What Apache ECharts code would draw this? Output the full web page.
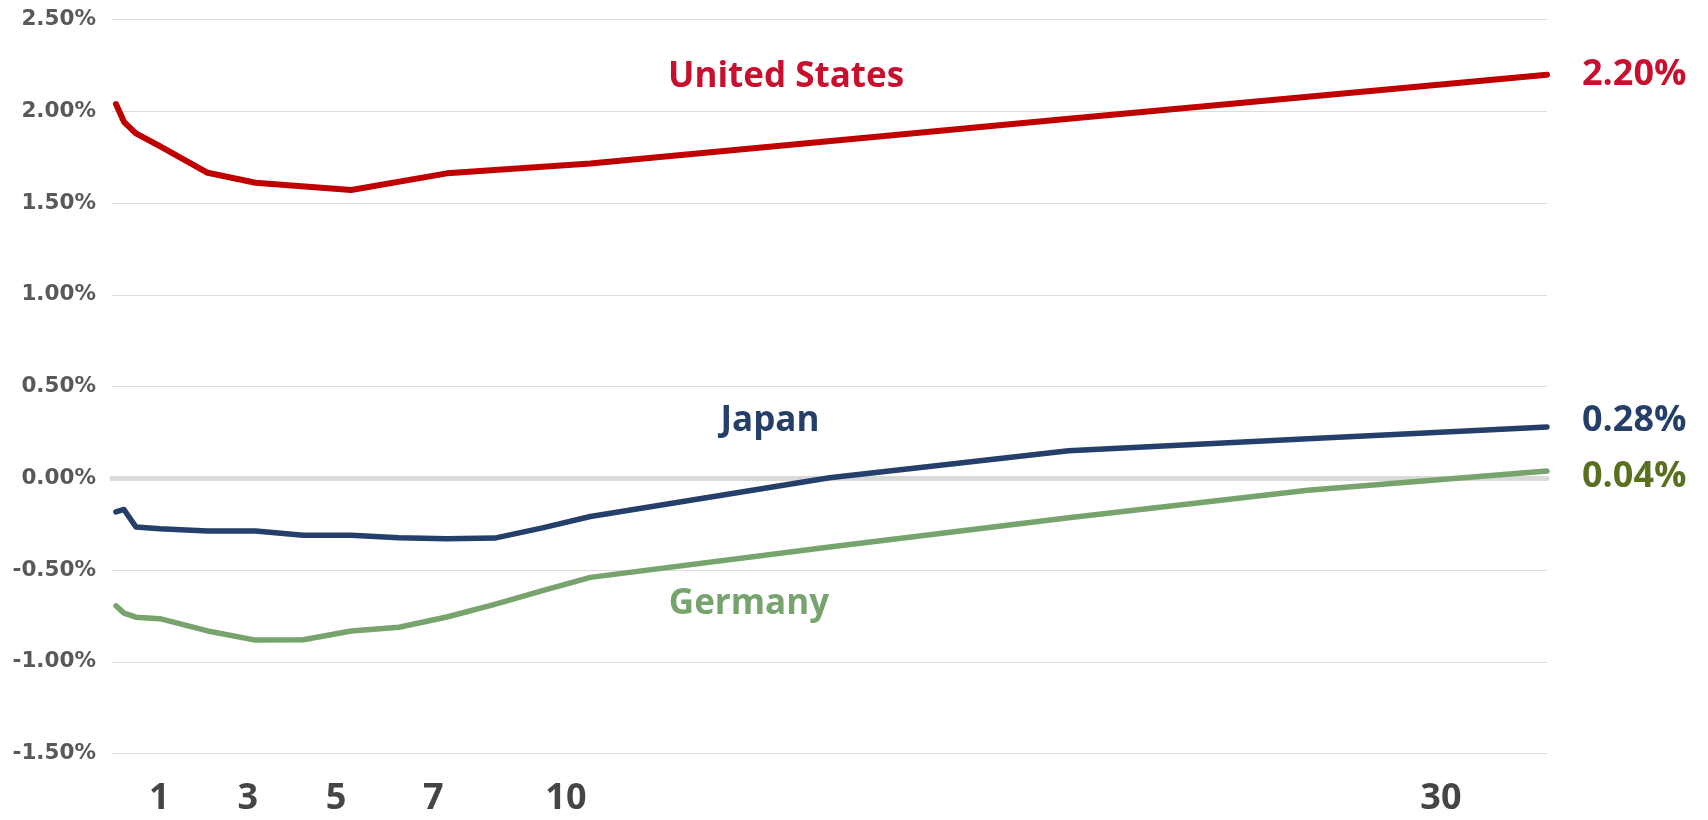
<!DOCTYPE html>
<html>
<head>
<meta charset="utf-8">
<script src="https://cdn.jsdelivr.net/npm/echarts@6/dist/echarts.min.js"></script>
<style>
html,body{margin:0;padding:0;background:#fff;}
#chart{width:1708px;height:820px;}
</style>
</head>
<body>
<div id="chart"></div>
<script>
// Maturities in years
var usMaturities = [0.083, 0.25, 0.5, 1, 2, 3, 5, 7, 10, 20, 30];
var usYields = [2.04, 1.943, 1.88, 1.81, 1.665, 1.611, 1.571, 1.662, 1.716, 1.96, 2.20];

var jpMaturities = [0.083, 0.25, 0.5, 1, 2, 3, 4, 5, 6, 7, 8, 9, 10, 15, 20, 25, 30];
var jpYields = [-0.183, -0.17, -0.265, -0.275, -0.287, -0.287, -0.311, -0.311, -0.324, -0.33, -0.326, -0.27, -0.208, 0.003, 0.15, 0.215, 0.28];

var deMaturities = [0.083, 0.25, 0.5, 1, 2, 3, 4, 5, 6, 7, 8, 9, 10, 15, 20, 25, 30];
var deYields = [-0.695, -0.735, -0.757, -0.765, -0.832, -0.882, -0.88, -0.832, -0.812, -0.756, -0.687, -0.612, -0.54, -0.375, -0.215, -0.065, 0.04];

// Tick labels of the maturity axis and where they sit on the label scale
var xTickLabels = ['1', '3', '5', '7', '10', '30'];
var xTickPositions = [1, 3, 5, 7.2, 10.2, 30];
var seriesNames = ['United States', 'Japan', 'Germany'];
var endValues = ['2.20%', '0.28%', '0.04%'];

function pairs(xs, ys) { return xs.map(function (x, i) { return [x, ys[i]]; }); }

var chart = echarts.init(document.getElementById('chart'), null, { renderer: 'canvas' });

var labelFont = '"Open Sans", "Noto Sans", sans-serif';

var option = {
  animation: false,
  backgroundColor: '#ffffff',
  grid: { left: 112, right: 161, top: 19.6, bottom: 66.5 },
  xAxis: [
    {
      type: 'value', min: 0, max: 30,
      axisLine: { show: true, onZero: true, lineStyle: { color: '#D9D9D9', width: 5 } },
      axisTick: { show: false },
      axisLabel: { show: false },
      splitLine: { show: false }
    },
    {
      type: 'value', min: -0.07, max: 32.4, position: 'bottom',
      axisLine: { show: false, onZero: false },
      axisTick: { show: false },
      splitLine: { show: false },
      axisLabel: {
        customValues: xTickPositions,
        margin: 27,
        color: '#454545',
        fontFamily: labelFont,
        fontWeight: 'bold',
        fontSize: 36,
        formatter: function (v) {
          var i = xTickPositions.indexOf(v);
          return i >= 0 ? xTickLabels[i] : '';
        }
      }
    }
  ],
  yAxis: {
    type: 'value', min: -1.5, max: 2.5, interval: 0.5,
    axisLine: { show: false },
    axisTick: { show: false },
    splitLine: { show: true, lineStyle: { color: '#DCDCDC', width: 1 } },
    axisLabel: {
      margin: 16,
      color: '#595959',
      fontFamily: '"DejaVu Sans", Verdana, sans-serif',
      fontWeight: 'bold',
      fontSize: 21.5,
      formatter: function (v) { return v.toFixed(2) + '%'; }
    }
  },
  series: [
    {
      name: seriesNames[0], type: 'line', xAxisIndex: 0,
      data: pairs(usMaturities, usYields),
      showSymbol: false, symbol: 'none',
      lineStyle: { color: '#C00000', width: 6, cap: 'round', join: 'round' },
      itemStyle: { color: '#C00000' },
      endLabel: {
        show: true, distance: 35,
        formatter: function () { return endValues[0]; },
        color: '#C8102E', fontFamily: labelFont, fontWeight: 'bold', fontSize: 36
      },
      z: 5
    },
    {
      name: seriesNames[1], type: 'line', xAxisIndex: 0,
      data: pairs(jpMaturities, jpYields),
      showSymbol: false, symbol: 'none',
      lineStyle: { color: '#243F69', width: 5.5, cap: 'round', join: 'round' },
      itemStyle: { color: '#243F69' },
      endLabel: {
        show: true, distance: 35, offset: [0, -6],
        formatter: function () { return endValues[1]; },
        color: '#243F69', fontFamily: labelFont, fontWeight: 'bold', fontSize: 36
      },
      z: 4
    },
    {
      name: seriesNames[2], type: 'line', xAxisIndex: 0,
      data: pairs(deMaturities, deYields),
      showSymbol: false, symbol: 'none',
      lineStyle: { color: '#77A36C', width: 5.5, cap: 'round', join: 'round' },
      itemStyle: { color: '#77A36C' },
      endLabel: {
        show: true, distance: 35, offset: [0, 6],
        formatter: function () { return endValues[2]; },
        color: '#58701F', fontFamily: labelFont, fontWeight: 'bold', fontSize: 36
      },
      z: 3
    }
  ],
  graphic: [
    { type: 'text', x: 786, y: 77, style: { text: seriesNames[0], fill: '#C8102E', font: 'bold 35px "Open Sans", sans-serif', textAlign: 'center', textVerticalAlign: 'middle' } },
    { type: 'text', x: 770, y: 421, style: { text: seriesNames[1], fill: '#243F69', font: 'bold 35px "Open Sans", sans-serif', textAlign: 'center', textVerticalAlign: 'middle' } },
    { type: 'text', x: 749, y: 604, style: { text: seriesNames[2], fill: '#77A36C', font: 'bold 35px "Open Sans", sans-serif', textAlign: 'center', textVerticalAlign: 'middle' } }
  ]
};

chart.setOption(option);
</script>
</body>
</html>
